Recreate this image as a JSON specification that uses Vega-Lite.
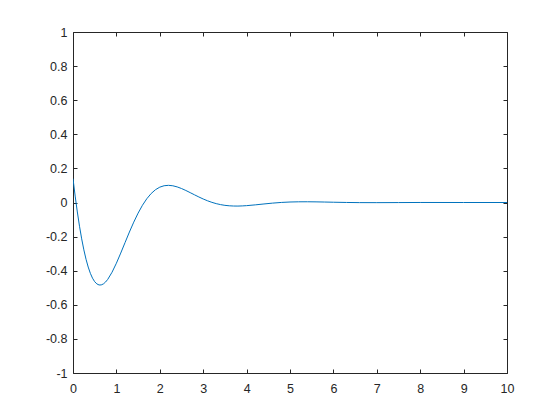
{
  "$schema": "https://vega.github.io/schema/vega-lite/v6.json",
  "autosize": "none",
  "width": 434,
  "height": 341,
  "padding": {"left": 73, "top": 32, "right": 53, "bottom": 47},
  "background": "white",
  "config": {
    "view": {"stroke": null},
    "axis": {
      "grid": false,
      "domainColor": "#262626",
      "tickColor": "#262626",
      "labelColor": "#262626",
      "labelFont": "Liberation Sans",
      "labelFontSize": 12.5,
      "labelFlush": false,
      "tickSize": -4,
      "title": null
    }
  },
  "data": {
    "values": [
      {"t": 0, "y": 0.14},
      {"t": 0.05, "y": 0.0376},
      {"t": 0.1, "y": -0.0556},
      {"t": 0.15, "y": -0.1393},
      {"t": 0.2, "y": -0.2132},
      {"t": 0.25, "y": -0.2777},
      {"t": 0.3, "y": -0.3327},
      {"t": 0.35, "y": -0.3785},
      {"t": 0.4, "y": -0.4155},
      {"t": 0.45, "y": -0.444},
      {"t": 0.5, "y": -0.4645},
      {"t": 0.55, "y": -0.4775},
      {"t": 0.6, "y": -0.4837},
      {"t": 0.65, "y": -0.4834},
      {"t": 0.7, "y": -0.4775},
      {"t": 0.75, "y": -0.4665},
      {"t": 0.8, "y": -0.451},
      {"t": 0.9, "y": -0.4089},
      {"t": 1.0, "y": -0.356},
      {"t": 1.1, "y": -0.2966},
      {"t": 1.2, "y": -0.2346},
      {"t": 1.3, "y": -0.1732},
      {"t": 1.4, "y": -0.1151},
      {"t": 1.5, "y": -0.0624},
      {"t": 1.6, "y": -0.0164},
      {"t": 1.7, "y": 0.0219},
      {"t": 1.8, "y": 0.0524},
      {"t": 1.9, "y": 0.075},
      {"t": 2.0, "y": 0.09},
      {"t": 2.1, "y": 0.0984},
      {"t": 2.2, "y": 0.1007},
      {"t": 2.3, "y": 0.0981},
      {"t": 2.4, "y": 0.0915},
      {"t": 2.5, "y": 0.082},
      {"t": 2.6, "y": 0.0705},
      {"t": 2.7, "y": 0.0579},
      {"t": 2.8, "y": 0.045},
      {"t": 2.9, "y": 0.0324},
      {"t": 3.0, "y": 0.0206},
      {"t": 3.1, "y": 0.01},
      {"t": 3.2, "y": 0.0009},
      {"t": 3.3, "y": -0.0066},
      {"t": 3.4, "y": -0.0124},
      {"t": 3.5, "y": -0.0167},
      {"t": 3.6, "y": -0.0193},
      {"t": 3.7, "y": -0.0207},
      {"t": 3.8, "y": -0.0209},
      {"t": 3.9, "y": -0.02},
      {"t": 4.0, "y": -0.0185},
      {"t": 4.2, "y": -0.0139},
      {"t": 4.4, "y": -0.0086},
      {"t": 4.6, "y": -0.0036},
      {"t": 4.8, "y": 0.0003},
      {"t": 5.0, "y": 0.0029},
      {"t": 5.2, "y": 0.0041},
      {"t": 5.4, "y": 0.0043},
      {"t": 5.6, "y": 0.0037},
      {"t": 5.8, "y": 0.0027},
      {"t": 6.0, "y": 0.0016},
      {"t": 6.3, "y": 0.0002},
      {"t": 6.6, "y": -0.0007},
      {"t": 7.0, "y": -0.0009},
      {"t": 7.5, "y": -0.0004},
      {"t": 8.0, "y": 0.0001},
      {"t": 9.0, "y": 0},
      {"t": 10.0, "y": 0}
    ]
  },
  "encoding": {
    "x": {"field": "t", "type": "quantitative", "scale": {"domain": [0, 10], "nice": false, "zero": false}},
    "y": {"field": "y", "type": "quantitative", "scale": {"domain": [-1, 1], "nice": false, "zero": false}}
  },
  "layer": [
    {
      "mark": {"type": "line", "color": "#0072BD", "strokeWidth": 1, "clip": true},
      "encoding": {
        "x": {"field": "t", "type": "quantitative",
          "axis": {"orient": "bottom", "values": [0,1,2,3,4,5,6,7,8,9,10], "labelPadding": 13, "format": "d"}},
        "y": {"field": "y", "type": "quantitative",
          "axis": {"orient": "left", "values": [-1,-0.8,-0.6,-0.4,-0.2,0,0.2,0.4,0.6,0.8,1], "labelPadding": 10, "format": ".1~f",
            "labelExpr": "replace(datum.label, '\u2212', '-')"}}
      }
    },
    {
      "mark": {"type": "line", "color": "#0072BD", "strokeWidth": 1, "opacity": 0},
      "encoding": {
        "x": {"field": "t", "type": "quantitative",
          "axis": {"orient": "top", "values": [0,1,2,3,4,5,6,7,8,9,10], "labels": false}},
        "y": {"field": "y", "type": "quantitative",
          "axis": {"orient": "right", "values": [-1,-0.8,-0.6,-0.4,-0.2,0,0.2,0.4,0.6,0.8,1], "labels": false}}
      }
    }
  ],
  "resolve": {"axis": {"x": "independent", "y": "independent"}}
}
